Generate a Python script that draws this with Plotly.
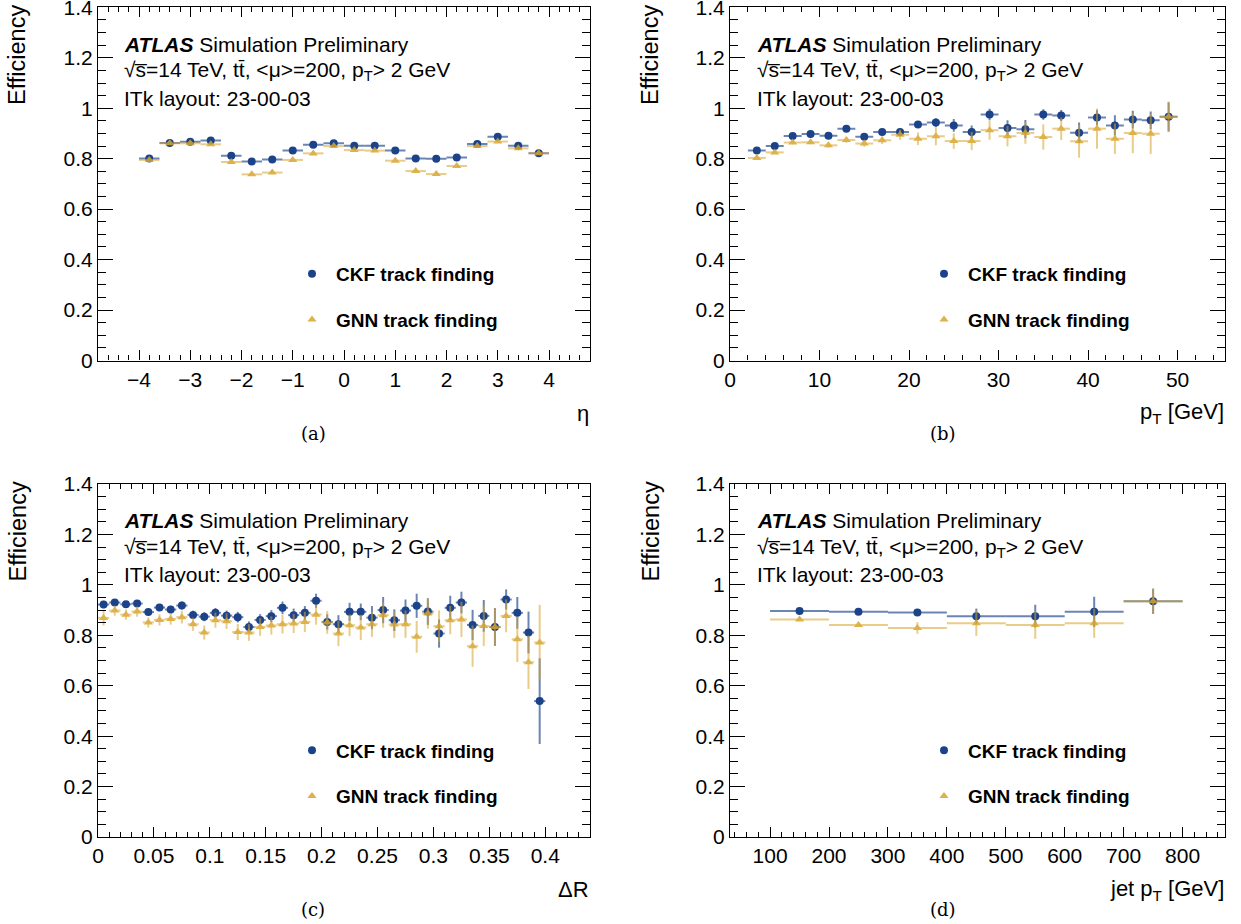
import plotly.graph_objects as go

W, H = 1241, 924

# ---------------- data ----------------
eta_centers = [-3.8, -3.4, -3.0, -2.6, -2.2, -1.8, -1.4, -1.0, -0.6, -0.2,
               0.2, 0.6, 1.0, 1.4, 1.8, 2.2, 2.6, 3.0, 3.4, 3.8]
eta_ckf = [0.801, 0.862, 0.867, 0.872, 0.812, 0.789, 0.797, 0.832, 0.855, 0.861,
           0.851, 0.851, 0.832, 0.801, 0.800, 0.805, 0.858, 0.887, 0.851, 0.822]
eta_gnn = [0.795, 0.861, 0.861, 0.857, 0.787, 0.738, 0.745, 0.795, 0.821, 0.850,
           0.834, 0.832, 0.792, 0.751, 0.739, 0.771, 0.850, 0.868, 0.841, 0.822]
eta_ckf_err = [0.003, 0.003, 0.003, 0.003, 0.003, 0.003, 0.003, 0.003, 0.003, 0.003,
               0.003, 0.003, 0.003, 0.003, 0.003, 0.003, 0.003, 0.003, 0.003, 0.003]
eta_gnn_err = [0.004, 0.004, 0.004, 0.004, 0.004, 0.004, 0.004, 0.004, 0.004, 0.004,
               0.004, 0.004, 0.004, 0.004, 0.004, 0.004, 0.004, 0.004, 0.004, 0.004]

pt_centers = [3, 5, 7, 9, 11, 13, 15, 17, 19, 21, 23, 25, 27, 29, 31, 33, 35, 37, 39, 41, 43, 45, 47, 49]
pt_ckf = [0.832, 0.850, 0.890, 0.898, 0.891, 0.919, 0.887, 0.906, 0.906, 0.936, 0.943, 0.932,
          0.906, 0.975, 0.922, 0.917, 0.975, 0.971, 0.903, 0.963, 0.932, 0.955, 0.952, 0.966]
pt_gnn = [0.803, 0.825, 0.864, 0.865, 0.853, 0.874, 0.860, 0.873, 0.895, 0.879, 0.889, 0.870,
          0.870, 0.913, 0.889, 0.902, 0.886, 0.919, 0.869, 0.919, 0.879, 0.902, 0.899, 0.966]
pt_ckf_err = [0.004, 0.004, 0.005, 0.005, 0.006, 0.007, 0.008, 0.009, 0.013, 0.013, 0.017, 0.025,
              0.026, 0.023, 0.030, 0.036, 0.021, 0.022, 0.040, 0.030, 0.040, 0.035, 0.035, 0.058]
pt_gnn_err = [0.005, 0.006, 0.007, 0.008, 0.009, 0.011, 0.013, 0.015, 0.020, 0.025, 0.036, 0.031,
              0.036, 0.038, 0.040, 0.043, 0.050, 0.045, 0.065, 0.080, 0.060, 0.080, 0.080, 0.060]

dr_centers = [0.005, 0.015, 0.025, 0.035, 0.045, 0.055, 0.065, 0.075, 0.085, 0.095,
              0.105, 0.115, 0.125, 0.135, 0.145, 0.155, 0.165, 0.175, 0.185, 0.195,
              0.205, 0.215, 0.225, 0.235, 0.245, 0.255, 0.265, 0.275, 0.285, 0.295,
              0.305, 0.315, 0.325, 0.335, 0.345, 0.355, 0.365, 0.375, 0.385, 0.395]
dr_ckf = [0.922, 0.930, 0.923, 0.926, 0.892, 0.910, 0.902, 0.918, 0.881, 0.874,
          0.889, 0.878, 0.872, 0.833, 0.861, 0.876, 0.909, 0.880, 0.889, 0.937,
          0.853, 0.844, 0.893, 0.893, 0.870, 0.900, 0.860, 0.898, 0.917, 0.894,
          0.807, 0.909, 0.930, 0.841, 0.877, 0.833, 0.942, 0.889, 0.811, 0.539]
dr_gnn = [0.869, 0.898, 0.882, 0.894, 0.851, 0.861, 0.865, 0.872, 0.844, 0.811,
          0.860, 0.856, 0.813, 0.811, 0.833, 0.839, 0.844, 0.847, 0.853, 0.882,
          0.851, 0.807, 0.840, 0.831, 0.844, 0.880, 0.843, 0.844, 0.794, 0.886,
          0.836, 0.860, 0.863, 0.757, 0.837, 0.833, 0.877, 0.784, 0.693, 0.771]
dr_ckf_err = [0.015, 0.012, 0.012, 0.012, 0.013, 0.014, 0.015, 0.016, 0.017, 0.018,
              0.019, 0.020, 0.021, 0.022, 0.023, 0.024, 0.025, 0.026, 0.027, 0.028,
              0.030, 0.036, 0.036, 0.033, 0.046, 0.052, 0.043, 0.044, 0.048, 0.053,
              0.056, 0.048, 0.043, 0.060, 0.063, 0.075, 0.040, 0.063, 0.083, 0.170]
dr_gnn_err = [0.030, 0.020, 0.020, 0.020, 0.020, 0.022, 0.023, 0.025, 0.026, 0.028,
              0.030, 0.031, 0.032, 0.033, 0.035, 0.036, 0.037, 0.038, 0.040, 0.040,
              0.045, 0.050, 0.043, 0.050, 0.050, 0.050, 0.053, 0.054, 0.063, 0.060,
              0.063, 0.056, 0.070, 0.082, 0.080, 0.075, 0.065, 0.090, 0.106, 0.150]

jet_centers = [150, 250, 350, 450, 550, 650, 750]
jet_ckf = [0.896, 0.893, 0.890, 0.876, 0.876, 0.893, 0.935]
jet_gnn = [0.863, 0.841, 0.829, 0.848, 0.841, 0.848, 0.935]
jet_ckf_err = [0.004, 0.004, 0.013, 0.030, 0.045, 0.060, 0.050]
jet_gnn_err = [0.004, 0.005, 0.023, 0.050, 0.055, 0.058, 0.050]

x_titles = ["η", "p<sub>T</sub> [GeV]", "ΔR", "jet p<sub>T</sub> [GeV]"]
captions = ["(a)", "(b)", "(c)", "(d)"]
series_names = ["<b>CKF track finding</b>", "<b>GNN track finding</b>"]
label_lines = ["<b><i>ATLAS</i></b> Simulation Preliminary",
               "√s\u0305=14 TeV, tt\u0304, &lt;μ&gt;=200, p<sub>T</sub>&gt; 2 GeV",
               "ITk layout: 23-00-03"]

# ---------------- style ----------------
BLUE = "#1c438a"
BLUE_ERR = "rgba(28,67,138,0.65)"
GOLD = "#d8a52c"
GOLD_ERR = "rgba(216,165,44,0.65)"
FONT = "Liberation Sans"


def px(x):
    return x / W


def py(y):
    return 1 - y / H


col_dom = [[px(98), px(590)], [px(730), px(1225)]]
row_dom = [[py(360.5), py(7.3)], [py(837), py(484)]]

panels = [
    dict(x=eta_centers, a=eta_ckf, b=eta_gnn, ea=eta_ckf_err, eb=eta_gnn_err, hw=0.2,
         rng=[-4.8, 4.8], dtick=1, mdtick=0.2, col=0, row=0),
    dict(x=pt_centers, a=pt_ckf, b=pt_gnn, ea=pt_ckf_err, eb=pt_gnn_err, hw=1.0,
         rng=[0, 55.3], dtick=10, mdtick=2, col=1, row=0),
    dict(x=dr_centers, a=dr_ckf, b=dr_gnn, ea=dr_ckf_err, eb=dr_gnn_err, hw=0.005,
         rng=[0, 0.44], dtick=0.05, mdtick=0.01, col=0, row=1),
    dict(x=jet_centers, a=jet_ckf, b=jet_gnn, ea=jet_ckf_err, eb=jet_gnn_err, hw=50,
         rng=[32, 872], dtick=100, mdtick=20, col=1, row=1),
]

fig = go.Figure()
layout = dict(width=W, height=H, margin=dict(l=0, r=0, t=0, b=0, pad=0), autosize=False,
              paper_bgcolor="white", plot_bgcolor="white", showlegend=True,
              font=dict(family=FONT, color="black"))
annotations = []

for i, p in enumerate(panels):
    n = "" if i == 0 else str(i + 1)
    xa, ya = "x" + n, "y" + n
    lg = "legend" + n
    fig.add_trace(go.Scatter(
        x=p["x"], y=p["a"], mode="markers", name=series_names[0], xaxis=xa, yaxis=ya,
        legend=lg, legendgroup="ckf" + n,
        marker=dict(symbol="circle", size=8, color=BLUE),
        error_x=dict(type="constant", value=p["hw"], color=BLUE_ERR, thickness=2, width=0),
        error_y=dict(type="data", array=p["ea"], color=BLUE_ERR, thickness=2, width=0)))
    fig.add_trace(go.Scatter(
        x=p["x"], y=p["b"], mode="markers", name=series_names[1], xaxis=xa, yaxis=ya,
        legend=lg, legendgroup="gnn" + n, opacity=0.85,
        marker=dict(symbol="triangle-up", size=8, color=GOLD),
        error_x=dict(type="constant", value=p["hw"], color=GOLD_ERR, thickness=2, width=0),
        error_y=dict(type="data", array=p["eb"], color=GOLD_ERR, thickness=2, width=0)))

    layout["xaxis" + n] = dict(
        domain=col_dom[p["col"]], range=p["rng"], anchor=ya, tick0=0, dtick=p["dtick"],
        automargin=False, ticklabeloverflow="allow",
        ticks="inside", ticklen=10, tickwidth=1, tickcolor="black",
        showline=True, linecolor="black", linewidth=1.2, mirror="ticks",
        showgrid=False, zeroline=False,
        tickfont=dict(family=FONT, size=21, color="black"),
        minor=dict(dtick=p["mdtick"], tick0=0, ticks="inside", ticklen=5, tickwidth=1,
                   tickcolor="black", showgrid=False))
    layout["yaxis" + n] = dict(
        domain=row_dom[p["row"]], range=[0, 1.4001], anchor=xa, tick0=0, dtick=0.2,
        automargin=False, ticklabeloverflow="allow",
        ticks="inside", ticklen=15, tickwidth=1, tickcolor="black",
        showline=True, linecolor="black", linewidth=1.2, mirror="ticks",
        showgrid=False, zeroline=False,
        tickfont=dict(family=FONT, size=21, color="black"),
        minor=dict(dtick=0.05, tick0=0, ticks="inside", ticklen=8, tickwidth=1,
                   tickcolor="black", showgrid=False))

    x1 = [590, 1225][p["col"]]
    yoff = [0, 476.5][p["row"]]
    tx = [122, 755][p["col"]]
    # ATLAS label
    for k, line in enumerate(label_lines):
        annotations.append(dict(text=line, x=px(tx), y=py(44 + 27 * k + yoff),
                                xref="paper", yref="paper", xanchor="left",
                                yanchor="middle", showarrow=False,
                                font=dict(family=FONT, size=21, color="black")))
    # y title
    annotations.append(dict(text="Efficiency", textangle=-90, xref="paper", yref="paper",
                            x=px([17, 650][p["col"]]), y=py(3 + yoff), xanchor="center",
                            yanchor="top", showarrow=False,
                            font=dict(family=FONT, size=23.5, color="black")))
    # x title
    annotations.append(dict(text=x_titles[i], xref="paper", yref="paper", x=px(x1 + 1),
                            y=py(413 + yoff), xanchor="right", yanchor="middle",
                            showarrow=False, font=dict(family=FONT, size=22, color="black")))
    # caption
    annotations.append(dict(text=captions[i], xref="paper", yref="paper",
                            x=px([313, 943][p["col"]]), y=py(433 + yoff), xanchor="center",
                            yanchor="middle", showarrow=False,
                            font=dict(family="DejaVu Serif", size=18, color="black")))

    layout[lg] = dict(x=px([288, 920][p["col"]]), y=py(255 + yoff), xanchor="left",
                      yanchor="top", bgcolor="rgba(0,0,0,0)", borderwidth=0,
                      tracegroupgap=18, traceorder="grouped", itemwidth=38,
                      font=dict(family=FONT, size=19, color="black"))

layout["annotations"] = annotations
fig.update_layout(**layout)
fig.write_html("out.html", config={"displayModeBar": False},
               post_script="document.body.style.margin='0px';"
                           "document.body.style.overflow='hidden';")
